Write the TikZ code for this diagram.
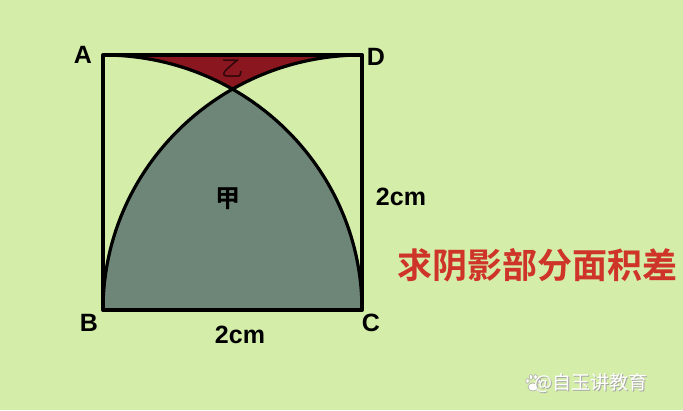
\documentclass[tikz,border=0pt]{standalone}
\usepackage{fontspec}
\setmainfont{Liberation Sans}
\newfontfamily\cjk{Noto Sans CJK SC}
\newfontfamily\cjkb{Noto Sans CJK SC Bold}
\definecolor{bg}{RGB}{212,237,168}
\definecolor{jia}{RGB}{110,134,120}
\definecolor{yi}{RGB}{138,22,32}
\definecolor{title}{RGB}{206,52,40}
\tikzset{
  edge/.style={line width=4pt,line join=round},
  arcline/.style={line width=3.2pt},
  rad/.style={x radius=259,y radius=255},
  vlabel/.style={font=\bfseries\fontsize{25}{25}\selectfont,inner sep=0pt},
  dim/.style={font=\bfseries\fontsize{25}{25}\selectfont,inner sep=0pt},
  paw/.style={fill=white,draw=black!35,line width=0.5pt},
}
\begin{document}
\begin{tikzpicture}[x=1pt,y=1pt]
\fill[bg] (0,0) rectangle (683,410);
\useasboundingbox (0,0) rectangle (683,410);
\coordinate (B) at (103,100);
\coordinate (C) at (362,100);
\coordinate (A) at (103,355);
\coordinate (D) at (362,355);
% shaded 甲
\fill[jia] (C) arc[start angle=0,end angle=60,rad]
  coordinate (E) arc[start angle=120,end angle=180,rad] -- cycle;
% shaded 乙
\fill[yi] (A) -- (D) arc[start angle=90,end angle=120,rad]
  arc[start angle=60,end angle=90,rad] -- cycle;
% arcs
\draw[arcline] (C) arc[start angle=0,end angle=90,rad];
\draw[arcline] (D) arc[start angle=90,end angle=180,rad];
% square
\draw[edge] (A) -- (D) -- (C) -- (B) -- cycle;
% labels
\node[vlabel] (lA) at (83,355) {A};
\node[vlabel] (lD) at (376,353) {D};
\node[vlabel] (lB) at (89,87) {B};
\node[vlabel] (lC) at (371,87) {C};
\node[dim] (bot) at (240,75) {2cm};
\node[dim] (right) at (401,213) {2cm};
\node[inner sep=0pt,font=\cjkb\fontsize{25}{25}\selectfont] (ljia) at (228,211) {甲};
\node[inner sep=0pt,font=\cjk\fontsize{22}{22}\selectfont,text=yi!35!black] (lyi) at (232,341) {乙};
\node[inner sep=0pt,font=\cjkb\fontsize{35}{35}\selectfont,text=title] (ttl) at (537,145) {求阴影部分面积差};
% watermark
\draw[paw] (533,23) ellipse[x radius=5,y radius=4];
\draw[paw] (527.5,29) ellipse[x radius=1.8,y radius=2.4];
\draw[paw] (531,33) ellipse[x radius=1.8,y radius=2.4];
\draw[paw] (535.5,33) ellipse[x radius=1.8,y radius=2.4];
\draw[paw] (539,29) ellipse[x radius=1.8,y radius=2.4];
\node[inner sep=0pt,font=\cjk\fontsize{19}{19}\selectfont,text=black!35] (wm2) at (591.7,26.3) {@自玉讲教育};
\node[inner sep=0pt,font=\cjk\fontsize{19}{19}\selectfont,text=white] (wm) at (591,27) {@自玉讲教育};
\end{tikzpicture}
\end{document}
